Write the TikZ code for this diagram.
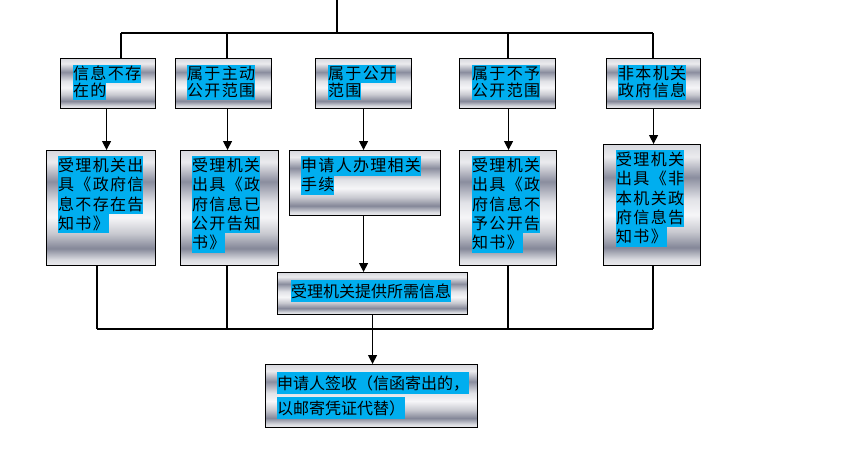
\documentclass[tikz,border=0pt]{standalone}
\usepackage{fontspec}
\newfontfamily\cjk[LetterSpace=8]{Noto Sans CJK SC}
\newfontfamily\cjkn{Noto Sans CJK SC}
\usetikzlibrary{arrows.meta,calc}
\definecolor{hlblue}{RGB}{0,174,239}
\definecolor{chA}{RGB}{215,216,222}
\definecolor{chB}{RGB}{235,235,238}
\definecolor{chC}{RGB}{138,141,158}
\definecolor{chD}{RGB}{225,226,231}
\definecolor{chE}{RGB}{246,246,248}
\definecolor{chF}{RGB}{200,201,208}
\definecolor{chG}{RGB}{132,135,152}
\definecolor{chH}{RGB}{220,221,226}
\pgfdeclareverticalshading{chrome}{100bp}{color(0bp)=(chB); color(25bp)=(chB); color(27.5bp)=(chH); color(32.5bp)=(chG); color(39bp)=(chF); color(46bp)=(chE); color(52.5bp)=(chD); color(61.5bp)=(chC); color(70bp)=(chB); color(75bp)=(chA); color(100bp)=(chA)}
\setlength{\fboxsep}{0pt}
\newlength\hlht
\newcommand\hl[1]{\colorbox{hlblue}{\rule[-0.21\hlht]{0pt}{\hlht}#1}}
\tikzset{
  chromebox/.style={draw=black, line width=1.1pt, shading=chrome, rectangle, inner sep=0pt, anchor=north west},
  txta/.style={anchor=north west, inner sep=0pt, align=left, font={\cjk\fontsize{16pt}{17.5pt}\selectfont\setlength\hlht{17.5pt}}},
  txtb/.style={anchor=north west, inner sep=0pt, align=left, font={\cjk\fontsize{16pt}{19.3pt}\selectfont\setlength\hlht{19.3pt}}},
  txtc/.style={anchor=north west, inner sep=0pt, align=left, font={\cjkn\fontsize{16pt}{25pt}\selectfont\setlength\hlht{22pt}}},
  line/.style={draw=black, line width=1.1pt},
  arr/.style={line, -{Triangle[width=9pt,length=9pt]}}
}
\begin{document}
\begin{tikzpicture}[x=1pt,y=-1pt]
\useasboundingbox (0,0) rectangle (848,467);
% row 1
\node[chromebox, minimum width=95pt, minimum height=50pt] (a1) at (60,58) {};
\node[chromebox, minimum width=96pt, minimum height=50pt] (a2) at (175,58) {};
\node[chromebox, minimum width=96pt, minimum height=50pt] (a3) at (315,58) {};
\node[chromebox, minimum width=96pt, minimum height=50pt] (a4) at (459,58) {};
\node[chromebox, minimum width=94pt, minimum height=50pt] (a5) at (606,58) {};
% row 2
\node[chromebox, minimum width=109pt, minimum height=115pt] (b1) at (46,150) {};
\node[chromebox, minimum width=98pt, minimum height=115pt] (b2) at (180,150) {};
\node[chromebox, minimum width=151pt, minimum height=65pt] (b3) at (289,150) {};
\node[chromebox, minimum width=97pt, minimum height=115pt] (b4) at (459,150) {};
\node[chromebox, minimum width=97pt, minimum height=121pt] (b5) at (603,144) {};
% row 3
\node[chromebox, minimum width=190pt, minimum height=42pt] (c) at (277,272) {};
\node[chromebox, minimum width=212pt, minimum height=63pt] (d) at (265,364) {};
% texts
\node[txta] (ta1) at (73,65) {\hl{信息不存}\\\hl{在的}};
\node[txta] (ta2) at (187,65) {\hl{属于主动}\\\hl{公开范围}};
\node[txta] (ta3) at (328,65) {\hl{属于公开}\\\hl{范围}};
\node[txta] (ta4) at (472,65) {\hl{属于不予}\\\hl{公开范围}};
\node[txta] (ta5) at (618,65) {\hl{非本机关}\\\hl{政府信息}};
\node[txtb] (tb1) at (58,156) {\hl{受理机关出}\\\hl{具《政府信}\\\hl{息不存在告}\\\hl{知书》}};
\node[txtb] (tb2) at (192,156) {\hl{受理机关}\\\hl{出具《政}\\\hl{府信息已}\\\hl{公开告知}\\\hl{书》}};
\node[txtb] (tb3) at (301,156) {\hl{申请人办理相关}\\\hl{手续}};
\node[txtb] (tb4) at (472,156) {\hl{受理机关}\\\hl{出具《政}\\\hl{府信息不}\\\hl{予公开告}\\\hl{知书》}};
\node[txtb] (tb5) at (616,150) {\hl{受理机关}\\\hl{出具《非}\\\hl{本机关政}\\\hl{府信息告}\\\hl{知书》}};
\node[txtc] (tc) at (291,280) {\hl{受理机关提供所需信息}};
\node[txtc] (td) at (277,372) {\hl{申请人签收（信函寄出的，}\\\hl{以邮寄凭证代替）}};
% top connectors
\coordinate (top) at (337,0);
\coordinate (hb) at (337,33);
\coordinate (hl) at (121,33);
\coordinate (h2) at (227,33);
\coordinate (h4) at (508,33);
\coordinate (hr) at (653,33);
\draw[line] (top) -- (hb);
\draw[line] (hl) -- (hr);
\draw[line] (hl) -- (hl |- a1.north);
\draw[line] (h2) -- (h2 |- a2.north);
\draw[line] (h4) -- (h4 |- a4.north);
\draw[line] (hr) -- (hr |- a5.north);
% arrows row1 -> row2
\draw[arr] ([xshift=-1.5pt]a1.south) -- ([xshift=-1.5pt]a1.south |- b1.north);
\draw[arr] ([xshift=4pt]a2.south) -- ([xshift=4pt]a2.south |- b2.north);
\draw[arr] (a3.south) -- (a3.south |- b3.north);
\draw[arr] ([xshift=1pt]a4.south) -- ([xshift=1pt]a4.south |- b4.north);
\draw[arr] (a5.south) -- (a5.south |- b5.north);
\draw[arr] ([xshift=-1.5pt]b3.south) -- ([xshift=-1.5pt]b3.south |- c.north);
% bottom collector
\coordinate (bl) at (97,329);
\coordinate (g2) at (227,329);
\coordinate (g4) at (508,329);
\coordinate (br) at (653,329);
\draw[line] (bl) -- (br);
\draw[line] (bl |- b1.south) -- (bl);
\draw[line] (g2 |- b2.south) -- (g2);
\draw[line] (g4 |- b4.south) -- (g4);
\draw[line] (br |- b5.south) -- (br);
\draw[arr] (c.south) -- (c.south |- d.north);
\end{tikzpicture}
\end{document}
